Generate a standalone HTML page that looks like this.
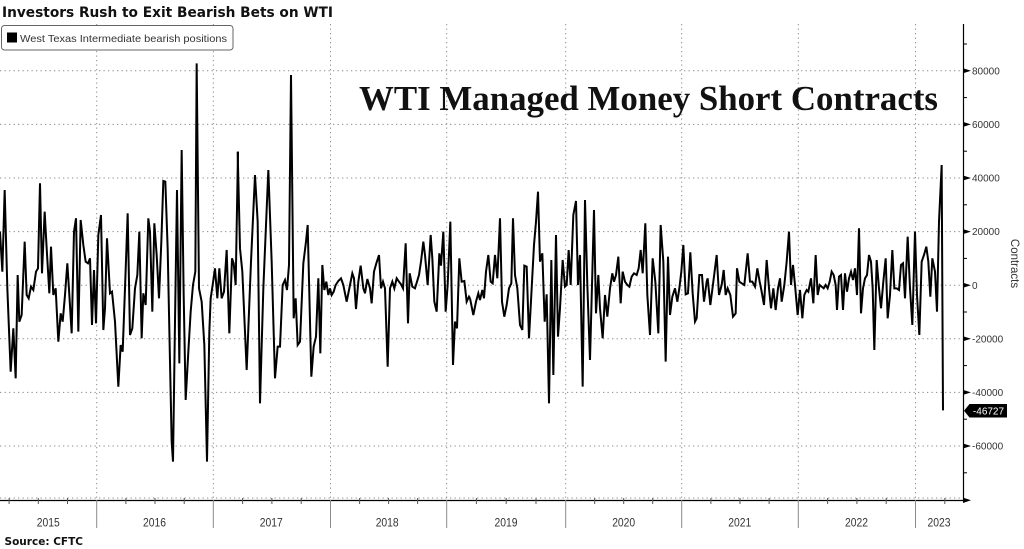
<!DOCTYPE html>
<html><head><meta charset="utf-8"><style>
html,body{margin:0;padding:0;background:#fff;}
svg{display:block;}
</style></head><body>
<svg width="1024" height="549" viewBox="0 0 1024 549" xmlns="http://www.w3.org/2000/svg">
<rect width="1024" height="549" fill="#fff"/>
<!-- horizontal grid -->
<g stroke="#8c8c8c" stroke-width="1" stroke-dasharray="1.3 3.2">
<line x1="0" y1="70.8" x2="963" y2="70.8"/>
<line x1="0" y1="124.4" x2="963" y2="124.4"/>
<line x1="0" y1="178" x2="963" y2="178"/>
<line x1="0" y1="231.6" x2="963" y2="231.6"/>
<line x1="0" y1="285.2" x2="963" y2="285.2"/>
<line x1="0" y1="338.8" x2="963" y2="338.8"/>
<line x1="0" y1="392.4" x2="963" y2="392.4"/>
<line x1="0" y1="446" x2="963" y2="446"/>
<line x1="0" y1="498" x2="963" y2="498"/>
<!-- vertical grid -->
<line x1="96.7" y1="24" x2="96.7" y2="500"/>
<line x1="213.3" y1="24" x2="213.3" y2="500"/>
<line x1="330.5" y1="24" x2="330.5" y2="500"/>
<line x1="446.7" y1="24" x2="446.7" y2="500"/>
<line x1="565.7" y1="24" x2="565.7" y2="500"/>
<line x1="681.7" y1="24" x2="681.7" y2="500"/>
<line x1="798.3" y1="24" x2="798.3" y2="500"/>
<line x1="915.5" y1="24" x2="915.5" y2="500"/>
</g>

<!-- big title -->
<text x="359" y="110" font-family="Liberation Serif, serif" font-weight="bold" font-size="35" fill="#111" textLength="579" lengthAdjust="spacingAndGlyphs">WTI Managed Money Short Contracts</text>

<!-- series -->
<g fill="none" stroke="#000" stroke-width="2" stroke-linejoin="miter">
<polyline vector-effect="non-scaling-stroke" transform="translate(0,55) scale(0.33333)" points="0,530 7,650 14,405 22,700 32,950 40,820 47,970 53,660 58,800 65,780 74,560 80,720 86,730 93,695 100,705 108,650 114,640 120,385 126,655 134,470 140,580 148,715 153,575 160,720 167,700 175,860 182,775 188,800 195,720 202,625 208,720 215,835 222,530 228,490 235,830 242,495 250,570 257,620 264,625 270,610 276,810 282,645 288,805 295,540 303,480 310,825 315,760 321,550 330,715 336,710 345,800 355,995 362,870 368,890 375,700 383,475 390,840 397,820 405,700 412,660 418,530 425,850 430,715 437,750 445,490 450,530 457,770 463,505 470,600 477,730 484,560 490,378 496,380 503,580 510,920 515,1160 519,1220 525,800 531,405 538,925 545,285 551,720 557,1035 565,890 572,770 579,690 586,650 590,25 597,700 605,740 613,870 621,1220 628,830 632,730 638,690 645,640 652,730 658,640 665,730 672,710 680,585 688,835 696,610 701,625 707,690 714,290"/>
<polyline vector-effect="non-scaling-stroke" transform="translate(235,55) scale(0.33333)" points="8,290 15,580 22,650 35,945 48,620 60,360 68,500 75,1045 85,700 100,345 110,620 120,970 128,875 135,875 143,690 150,675 156,705 162,630 168,60 176,790 182,730 188,870 195,860 205,625 213,560 218,510 229,965 236,875 243,845 250,670 256,895 262,630 268,705 274,680 280,720 285,700 290,720 296,710 302,690 310,678 318,670 325,690 335,740 345,690 352,655 357,670 363,762 370,680 377,632 385,700 390,715 397,672 405,700 410,745 417,650 424,625 432,600 438,700 444,680 450,700 458,935 465,700 472,680 478,700 485,670 492,680 498,688 504,700 512,565 519,805 524,655 532,695 540,700 546,680 552,660 558,620 565,560 570,600 578,690 587,540 592,610 598,740 605,770 613,595 618,632 625,530 632,770 638,690 646,500 654,930 660,800 666,820 673,610 680,680 688,678 695,740 702,725 705,730"/>
<polyline vector-effect="non-scaling-stroke" transform="translate(470,55) scale(0.33333)" points="0,730 10,780 18,740 25,715 30,735 37,705 42,730 48,650 55,600 62,680 68,685 75,600 82,670 90,490 96,740 103,785 110,750 117,700 124,685 129,490 135,660 142,700 150,810 157,825 163,632 170,635 177,850 185,700 192,570 198,500 204,410 210,620 217,595 224,800 230,718 237,1045 244,615 250,960 258,540 264,845 270,760 278,615 285,695 290,690 296,585 302,690 310,480 318,438 324,690 330,600 338,995 345,435 352,690 360,915 366,690 372,465 378,775 385,660 390,760 398,850 405,720 412,785 420,700 427,655 432,680 438,660 445,605 452,745 458,650 465,680 472,690 478,695 485,665 492,655 500,660 506,640 512,585 518,655 526,505 532,720 540,840 548,610 556,680 565,835 572,510 580,620 587,920 594,605 600,780 607,725 615,700 622,740 628,700 634,650 640,570 647,718 654,715 661,592 668,715 675,800 680,790 688,660 696,660 702,740 710,680 713,670"/>
<polyline vector-effect="non-scaling-stroke" transform="translate(705,55) scale(0.33333)" points="8,670 16,750 25,680 35,600 42,720 50,690 56,645 62,720 68,700 76,720 84,785 92,775 96,640 103,680 110,685 118,690 128,595 135,680 142,680 150,695 157,640 164,680 170,710 177,750 185,615 192,700 198,760 205,700 212,765 219,700 225,670 230,740 238,690 245,620 252,530 258,690 264,630 270,690 278,780 285,705 292,790 298,720 305,705 310,710 318,670 325,745 332,600 338,720 344,690 350,695 356,700 362,690 368,700 374,680 380,650 386,660 392,690 396,765 402,665 408,660 414,765 420,655 426,710 432,670 438,650 444,675 450,640 456,720 462,520 468,775 474,700 480,670 486,660 492,600 498,620 503,700 508,885 515,615 522,700 528,760 535,680 542,610 548,790 555,720 562,585 568,700 575,700 582,705 588,630 594,625 600,730 608,545 615,700 622,810 630,530 636,720 643,840 650,620 657,600 664,575 670,620 676,725 682,610 690,650 696,770 702,500 710,330 714,1066"/>
</g>

<!-- x axis -->
<line x1="0" y1="500.5" x2="964" y2="500.5" stroke="#000" stroke-width="1.2"/>
<g stroke="#8a8a8a" stroke-width="1">
<line x1="96.7" y1="500" x2="96.7" y2="528"/>
<line x1="213.3" y1="500" x2="213.3" y2="528"/>
<line x1="330.5" y1="500" x2="330.5" y2="528"/>
<line x1="446.7" y1="500" x2="446.7" y2="528"/>
<line x1="565.7" y1="500" x2="565.7" y2="528"/>
<line x1="681.7" y1="500" x2="681.7" y2="528"/>
<line x1="798.3" y1="500" x2="798.3" y2="528"/>
<line x1="915.5" y1="500" x2="915.5" y2="528"/>
</g>
<g stroke="#555" stroke-width="1">
<line x1="9.1" y1="498" x2="9.1" y2="504"/><line x1="38.3" y1="498" x2="38.3" y2="504"/><line x1="67.5" y1="498" x2="67.5" y2="504"/>
<line x1="125.9" y1="498" x2="125.9" y2="504"/><line x1="155" y1="498" x2="155" y2="504"/><line x1="184.2" y1="498" x2="184.2" y2="504"/>
<line x1="242.6" y1="498" x2="242.6" y2="504"/><line x1="271.9" y1="498" x2="271.9" y2="504"/><line x1="301.2" y1="498" x2="301.2" y2="504"/>
<line x1="359.6" y1="498" x2="359.6" y2="504"/><line x1="388.6" y1="498" x2="388.6" y2="504"/><line x1="417.6" y1="498" x2="417.6" y2="504"/>
<line x1="476.4" y1="498" x2="476.4" y2="504"/><line x1="506.2" y1="498" x2="506.2" y2="504"/><line x1="536" y1="498" x2="536" y2="504"/>
<line x1="594.7" y1="498" x2="594.7" y2="504"/><line x1="623.7" y1="498" x2="623.7" y2="504"/><line x1="652.7" y1="498" x2="652.7" y2="504"/>
<line x1="710.9" y1="498" x2="710.9" y2="504"/><line x1="740" y1="498" x2="740" y2="504"/><line x1="769.1" y1="498" x2="769.1" y2="504"/>
<line x1="827.6" y1="498" x2="827.6" y2="504"/><line x1="856.9" y1="498" x2="856.9" y2="504"/><line x1="886.2" y1="498" x2="886.2" y2="504"/>
<line x1="944.8" y1="498" x2="944.8" y2="504"/>
</g>
<g font-family="Liberation Sans, sans-serif" font-size="11.5" fill="#333" text-anchor="middle">
<text x="48.3" y="526.5" textLength="23" lengthAdjust="spacingAndGlyphs">2015</text>
<text x="154.5" y="526.5" textLength="23" lengthAdjust="spacingAndGlyphs">2016</text>
<text x="271.3" y="526.5" textLength="23" lengthAdjust="spacingAndGlyphs">2017</text>
<text x="387.2" y="526.5" textLength="23" lengthAdjust="spacingAndGlyphs">2018</text>
<text x="506" y="526.5" textLength="23" lengthAdjust="spacingAndGlyphs">2019</text>
<text x="623.7" y="526.5" textLength="23" lengthAdjust="spacingAndGlyphs">2020</text>
<text x="739.8" y="526.5" textLength="23" lengthAdjust="spacingAndGlyphs">2021</text>
<text x="856.5" y="526.5" textLength="23" lengthAdjust="spacingAndGlyphs">2022</text>
<text x="939" y="526.5" textLength="23" lengthAdjust="spacingAndGlyphs">2023</text>
</g>

<!-- y axis -->
<line x1="963.5" y1="24" x2="963.5" y2="501" stroke="#000" stroke-width="1.2"/>
<g fill="#000">
<polygon points="963,68.3 971,70.8 963,73.3"/>
<polygon points="963,121.9 971,124.4 963,126.9"/>
<polygon points="963,175.5 971,178 963,180.5"/>
<polygon points="963,229.1 971,231.6 963,234.1"/>
<polygon points="963,282.7 971,285.2 963,287.7"/>
<polygon points="963,336.3 971,338.8 963,341.3"/>
<polygon points="963,389.9 971,392.4 963,394.9"/>
<polygon points="963,443.5 971,446 963,448.5"/>
<polygon points="963,497.6 971,500.3 963,503"/>
</g>
<g stroke="#000" stroke-width="1">
<line x1="963" y1="44" x2="967" y2="44"/>
<line x1="963" y1="97.6" x2="967" y2="97.6"/>
<line x1="963" y1="151.2" x2="967" y2="151.2"/>
<line x1="963" y1="204.8" x2="967" y2="204.8"/>
<line x1="963" y1="258.4" x2="967" y2="258.4"/>
<line x1="963" y1="312" x2="967" y2="312"/>
<line x1="963" y1="365.6" x2="967" y2="365.6"/>
<line x1="963" y1="419.2" x2="967" y2="419.2"/>
<line x1="963" y1="472.8" x2="967" y2="472.8"/>
</g>
<g font-family="Liberation Sans, sans-serif" font-size="10" fill="#333">
<text x="972" y="74.5">80000</text>
<text x="972" y="128">60000</text>
<text x="972" y="181.6">40000</text>
<text x="972" y="235.2">20000</text>
<text x="972" y="288.8">0</text>
<text x="972" y="342.4">-20000</text>
<text x="972" y="396">-40000</text>
<text x="972" y="449.6">-60000</text>
</g>
<text transform="translate(1011,263.5) rotate(90)" font-family="Liberation Sans, sans-serif" font-size="11.5" fill="#333" text-anchor="middle">Contracts</text>

<!-- last value label -->
<polygon points="964,410.7 969.5,404 1007,404 1007,417.5 969.5,417.5" fill="#000"/>
<text x="988.5" y="414.6" font-family="Liberation Sans, sans-serif" font-size="10" fill="#fff" text-anchor="middle">-46727</text>

<!-- legend -->
<rect x="1.5" y="25.5" width="231.5" height="24.5" rx="3" ry="3" fill="#fff" stroke="#666" stroke-width="1"/>
<rect x="7" y="32.5" width="10" height="10" fill="#000"/>
<text x="20" y="42" font-family="Liberation Sans, sans-serif" font-size="10.5" fill="#333" textLength="207" lengthAdjust="spacingAndGlyphs">West Texas Intermediate bearish positions</text>

<!-- title -->
<text x="2" y="17" font-family="DejaVu Sans, sans-serif" font-weight="bold" font-size="14" fill="#111" textLength="331" lengthAdjust="spacingAndGlyphs">Investors Rush to Exit Bearish Bets on WTI</text>
<!-- source -->
<text x="4.5" y="545" font-family="DejaVu Sans, sans-serif" font-weight="bold" font-size="10.5" fill="#111" textLength="78.5" lengthAdjust="spacingAndGlyphs">Source:  CFTC</text>
</svg>
</body></html>
